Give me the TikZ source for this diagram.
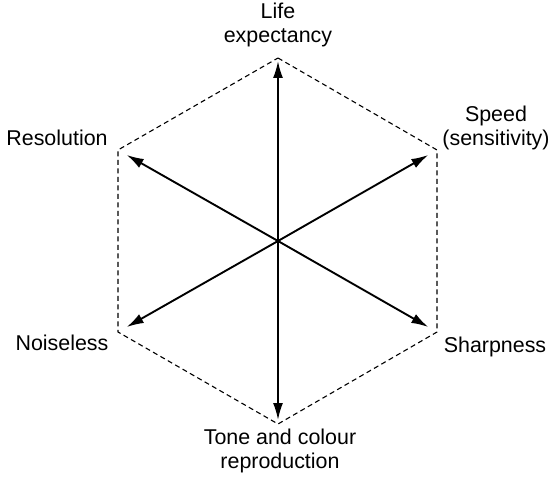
\documentclass[tikz,border=0pt]{standalone}
\usepackage{fontspec}
\setmainfont{Liberation Sans}
\usetikzlibrary{arrows.meta}
\begin{document}
\begin{tikzpicture}[x=1bp,y=-1bp,
  hexedge/.style={draw=black,line width=1.1bp,dash pattern=on 5bp off 3.5bp},
  axisarrow/.style={draw=black,line width=1.9bp,-{Latex[length=17bp,width=10bp]}},
  lbl/.style={inner sep=0pt,align=center,font=\fontsize{21.5}{24}\selectfont}]
\useasboundingbox (0,0) rectangle (551,481);
\coordinate (c) at (278,241);
\coordinate (vt) at (278,58);
\coordinate (vur) at (437,150);
\coordinate (vlr) at (437,332);
\coordinate (vb) at (278,424);
\coordinate (vll) at (118,332);
\coordinate (vul) at (118,150);
\draw[hexedge] (vt) -- (vur) -- (vlr) -- (vb) -- (vll) -- (vul) -- cycle;
\draw[axisarrow,shorten >=3bp] (c) -- (vt);
\draw[axisarrow,shorten >=4bp] (c) -- (vb);
\draw[axisarrow,shorten >=10bp] (c) -- (vur);
\draw[axisarrow,shorten >=10bp] (c) -- (vlr);
\draw[axisarrow,shorten >=10bp] (c) -- (vll);
\draw[axisarrow,shorten >=10bp] (c) -- (vul);
\node[lbl] (life) at (278,25) {Life\\expectancy};
\node[lbl] (res) at (57,138) {Resolution};
\node[lbl] (speed) at (496,128) {Speed\\(sensitivity)};
\node[lbl] (noise) at (62,343) {Noiseless};
\node[lbl] (sharp) at (495,347) {Sharpness};
\node[lbl] (tone) at (280,451) {Tone and colour\\reproduction};
\end{tikzpicture}
\end{document}
